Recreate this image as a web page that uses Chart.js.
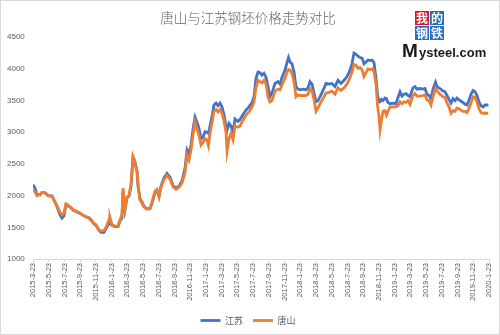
<!DOCTYPE html>
<html>
<head>
<meta charset="utf-8">
<script src="https://cdn.jsdelivr.net/npm/chart.js@4.4.1/dist/chart.umd.min.js"></script>
<style>
  html, body { margin: 0; padding: 0; background: #fff; }
</style>
</head>
<body>
<canvas id="line-chart" width="500" height="335"></canvas>
<script>
// x ticks: every two months starting 2015-3-23
const tickLabels = [
  "2015-3-23", "2015-5-23", "2015-7-23", "2015-9-23", "2015-11-23",
  "2016-1-23", "2016-3-23", "2016-5-23", "2016-7-23", "2016-9-23", "2016-11-23",
  "2017-1-23", "2017-3-23", "2017-5-23", "2017-7-23", "2017-9-23", "2017-11-23",
  "2018-1-23", "2018-3-23", "2018-5-23", "2018-7-23", "2018-9-23", "2018-11-23",
  "2019-1-23", "2019-3-23", "2019-5-23", "2019-7-23", "2019-9-23", "2019-11-23",
  "2020-1-23"
];

// months elapsed since 2015-3-23
const months = [
  0, 0.25, 0.51, 0.89, 1.14, 1.53, 1.91, 2.42, 2.67, 3.05,
  3.43, 3.69, 3.94, 4.20, 4.45, 4.71, 5.09, 5.47, 5.98, 6.36,
  6.74, 7.12, 7.38, 7.63, 8.01, 8.40, 8.65, 9.03, 9.29, 9.67,
  9.79, 10.05, 10.43, 10.81, 11.07, 11.32, 11.45, 11.70, 11.96, 12.21,
  12.47, 12.72, 12.97, 13.23, 13.36, 13.61, 13.86, 14.12, 14.50, 14.88,
  15.14, 15.52, 15.77, 16.03, 16.28, 16.66, 17.04, 17.43, 17.81, 18.19,
  18.57, 18.95, 19.33, 19.59, 19.84, 20.10, 20.35, 20.61, 20.86, 21.11,
  21.37, 21.62, 21.88, 22.13, 22.32, 22.51, 22.77, 23.02, 23.28, 23.53,
  23.79, 24.04, 24.29, 24.55, 24.68, 24.93, 25.18, 25.44, 25.69, 26.08,
  26.33, 26.71, 27.09, 27.47, 27.86, 28.11, 28.36, 28.62, 28.87, 29.13,
  29.38, 29.64, 29.89, 30.14, 30.40, 30.78, 31.16, 31.42, 31.67, 32.05,
  32.31, 32.50, 32.69, 32.94, 33.20, 33.45, 33.71, 33.96, 34.34, 34.72,
  34.98, 35.23, 35.49, 35.74, 36.00, 36.25, 36.50, 36.89, 37.27, 37.65,
  38.03, 38.41, 38.79, 39.18, 39.56, 39.94, 40.32, 40.57, 40.83, 41.08,
  41.34, 41.59, 41.85, 42.10, 42.36, 42.61, 42.86, 43.12, 43.37, 43.63,
  43.82, 44.01, 44.14, 44.33, 44.52, 44.77, 44.96, 45.15, 45.41, 45.79,
  46.17, 46.43, 46.68, 46.93, 47.19, 47.44, 47.70, 47.95, 48.33, 48.59,
  48.84, 49.22, 49.61, 49.86, 50.11, 50.37, 50.62, 50.88, 51.20, 51.39,
  51.77, 52.15, 52.40, 52.66, 52.91, 53.17, 53.42, 53.68, 53.93, 54.19,
  54.44, 54.69, 54.95, 55.20, 55.46, 55.71, 55.97, 56.22, 56.47, 56.73,
  56.98, 57.24, 57.49, 57.75, 57.90
];

// 江苏 billet price (yuan/t)
const jiangsu = [
  2170, 2120, 2020, 2010, 2050, 2045, 2000, 1995, 1930, 1830,
  1700, 1645, 1680, 1860, 1840, 1820, 1780, 1750, 1720, 1690,
  1665, 1650, 1620, 1570, 1530, 1450, 1420, 1420, 1480, 1560,
  1600, 1530, 1510, 1510, 1600, 1650, 2080, 1780, 1970, 1990,
  2150, 2600, 2520, 2380, 2150, 1950, 1900, 1830, 1790, 1800,
  1880, 2050, 2080, 1990, 2150, 2280, 2350, 2290, 2160, 2120,
  2150, 2230, 2430, 2720, 2650, 2800, 3050, 3240, 3160, 3060,
  2900, 2920, 3010, 3000, 2980, 3100, 3250, 3430, 3460, 3420,
  3460, 3400, 3280, 3100, 3030, 3140, 3100, 3000, 3210, 3170,
  3200, 3280, 3350, 3400, 3470, 3560, 3850, 3950, 3940, 3900,
  3930, 3870, 3720, 3560, 3620, 3770, 3800, 3760, 3870, 3980,
  4100, 4180, 4110, 4080, 3950, 3720, 3680, 3670, 3680, 3670,
  3700, 3800, 3760, 3620, 3480, 3500, 3560, 3660, 3770, 3760,
  3770, 3720, 3820, 3770, 3820, 3880, 3980, 4080, 4250, 4230,
  4200, 4180, 4170, 4080, 4110, 4140, 4130, 4140, 4100, 3850,
  3600, 3480, 3480, 3520, 3500, 3540, 3530, 3470, 3450, 3460,
  3450, 3550, 3640, 3570, 3600, 3610, 3580, 3560, 3700, 3720,
  3680, 3690, 3680, 3690, 3600, 3580, 3530, 3680, 3790, 3720,
  3690, 3650, 3640, 3580, 3520, 3460, 3530, 3500, 3540, 3510,
  3490, 3470, 3440, 3430, 3510, 3600, 3660, 3640, 3580, 3480,
  3420, 3400, 3430, 3430, 3440
];

// 唐山 billet price (yuan/t)
const tangshan = [
  2100, 2060, 2000, 2020, 2050, 2045, 2000, 1990, 1930, 1840,
  1740, 1695, 1720, 1870, 1850, 1825, 1770, 1755, 1725, 1690,
  1670, 1640, 1610, 1580, 1540, 1460, 1440, 1450, 1500, 1620,
  1660, 1540, 1520, 1520, 1620, 1700, 2120, 1800, 1980, 2000,
  2180, 2620, 2540, 2400, 2180, 1930, 1880, 1820, 1790, 1790,
  1900, 2070, 2100, 1980, 2130, 2250, 2320, 2260, 2140, 2100,
  2130, 2200, 2360, 2640, 2560, 2720, 2960, 3160, 3060, 2950,
  2800, 2840, 2900, 2880, 2790, 2980, 3150, 3330, 3360, 3320,
  3360, 3300, 3180, 3000, 2700, 2900, 2980, 2880, 3100, 3080,
  3100, 3190, 3270, 3320, 3400, 3480, 3700, 3820, 3800, 3780,
  3820, 3760, 3560, 3480, 3500, 3650, 3680, 3670, 3750, 3850,
  3950, 3990, 3980, 3930, 3800, 3560, 3590, 3580, 3580, 3580,
  3600, 3690, 3650, 3520, 3330, 3380, 3450, 3530, 3620, 3630,
  3650, 3600, 3700, 3660, 3700, 3760, 3860, 3950, 4070, 4060,
  4010, 4020, 3990, 3880, 3940, 4000, 3990, 4000, 3960, 3760,
  3420, 3250, 3040, 3200, 3330, 3340, 3270, 3330, 3400, 3400,
  3400, 3420, 3480, 3450, 3480, 3470, 3500, 3440, 3580, 3610,
  3570, 3570, 3580, 3590, 3510, 3500, 3430, 3560, 3690, 3650,
  3600, 3560, 3550, 3460, 3400, 3300, 3340, 3330, 3380, 3370,
  3350, 3330, 3330, 3310, 3380, 3460, 3560, 3550, 3480, 3370,
  3310, 3300, 3300, 3300, 3300
];

const seriesNames = ["江苏", "唐山"];
const blue = "#4472C4";
const orange = "#ED7D31";
const textGray = "#595959";
const cjk = "'Noto Sans CJK SC', 'Liberation Sans', sans-serif";

const toPoints = (vals) => months.map((m, i) => ({ x: m, y: vals[i] }));

// white background and thin frame
const frame = {
  id: "frame",
  beforeDraw(chart) {
    const c = chart.ctx;
    c.save();
    c.fillStyle = "#fff";
    c.fillRect(0, 0, chart.width, chart.height);
    c.strokeStyle = "#d9d9d9";
    c.lineWidth = 1;
    c.strokeRect(0.5, 0.5, chart.width - 1, chart.height - 1);
    c.restore();
  }
};

// Mysteel logo in the top right corner
const logo = {
  id: "logo",
  afterDraw(chart) {
    const c = chart.ctx;
    c.save();
    const cells = [
      ["我", 415, 11, "#d7182a"],
      ["的", 430, 11, "#2a6ebb"],
      ["钢", 415, 26, "#2a6ebb"],
      ["铁", 430, 26, "#2a6ebb"]
    ];
    c.textAlign = "center";
    c.textBaseline = "middle";
    c.font = "bold 12px " + cjk;
    cells.forEach(([ch, x, y, col]) => {
      c.fillStyle = col;
      c.fillRect(x, y, 14, 14);
      c.fillStyle = "#fff";
      c.fillText(ch, x + 7, y + 7.5);
    });
    c.fillStyle = "#1a1a1a";
    c.textAlign = "left";
    c.textBaseline = "alphabetic";
    c.font = "bold 19px 'Liberation Sans', sans-serif";
    c.fillText("M", 402, 57);
    c.font = "bold 13px 'Liberation Sans', sans-serif";
    c.fillText("ysteel.com", 419, 57);
    c.restore();
  }
};

new Chart(document.getElementById("line-chart"), {
  type: "line",
  data: {
    datasets: [
      {
        label: seriesNames[0],
        data: toPoints(jiangsu),
        borderColor: blue,
        backgroundColor: blue,
        borderWidth: 2.8,
        pointRadius: 0,
        tension: 0,
        order: 1
      },
      {
        label: seriesNames[1],
        data: toPoints(tangshan),
        borderColor: orange,
        backgroundColor: orange,
        borderWidth: 2.8,
        pointRadius: 0,
        tension: 0,
        order: 0
      }
    ]
  },
  options: {
    responsive: false,
    animation: false,
    layout: { padding: { left: 7, right: 11, top: 0, bottom: 0 } },
    plugins: {
      title: {
        display: true,
        text: "唐山与江苏钢坯价格走势对比",
        color: "#666",
        font: { family: cjk, size: 13.5, weight: 300 },
        padding: { top: 10, bottom: 11 }
      },
      legend: {
        position: "bottom",
        labels: {
          color: textGray,
          font: { family: cjk, size: 9 },
          usePointStyle: true,
          pointStyle: "line",
          pointStyleWidth: 20,
          padding: 10,
          sort: (a, b) => a.datasetIndex - b.datasetIndex
        }
      },
      tooltip: { enabled: false }
    },
    scales: {
      x: {
        type: "linear",
        min: 0,
        max: 58,
        afterBuildTicks: (scale) => {
          scale.ticks = tickLabels.map((_, i) => ({ value: i * 2 }));
        },
        afterFit: (scale) => { scale.height = 47; },
        grid: {
          display: true,
          drawOnChartArea: false,
          drawTicks: true,
          tickLength: 3,
          color: "#d9d9d9"
        },
        border: { display: true, color: "#d9d9d9" },
        ticks: {
          autoSkip: false,
          minRotation: 90,
          maxRotation: 90,
          padding: 1,
          color: textGray,
          font: { family: "'Liberation Sans', sans-serif", size: 7.5 },
          callback: (v) => tickLabels[Math.round(v / 2)]
        }
      },
      y: {
        min: 1000,
        max: 4500,
        afterFit: (scale) => { scale.width = 26; },
        grid: { display: false },
        border: { display: false },
        ticks: {
          stepSize: 500,
          crossAlign: "far",
          padding: 0,
          color: textGray,
          font: { family: "'Liberation Sans', sans-serif", size: 8 },
          callback: (v) => String(v)
        }
      }
    }
  },
  plugins: [frame, logo]
});
</script>
</body>
</html>
